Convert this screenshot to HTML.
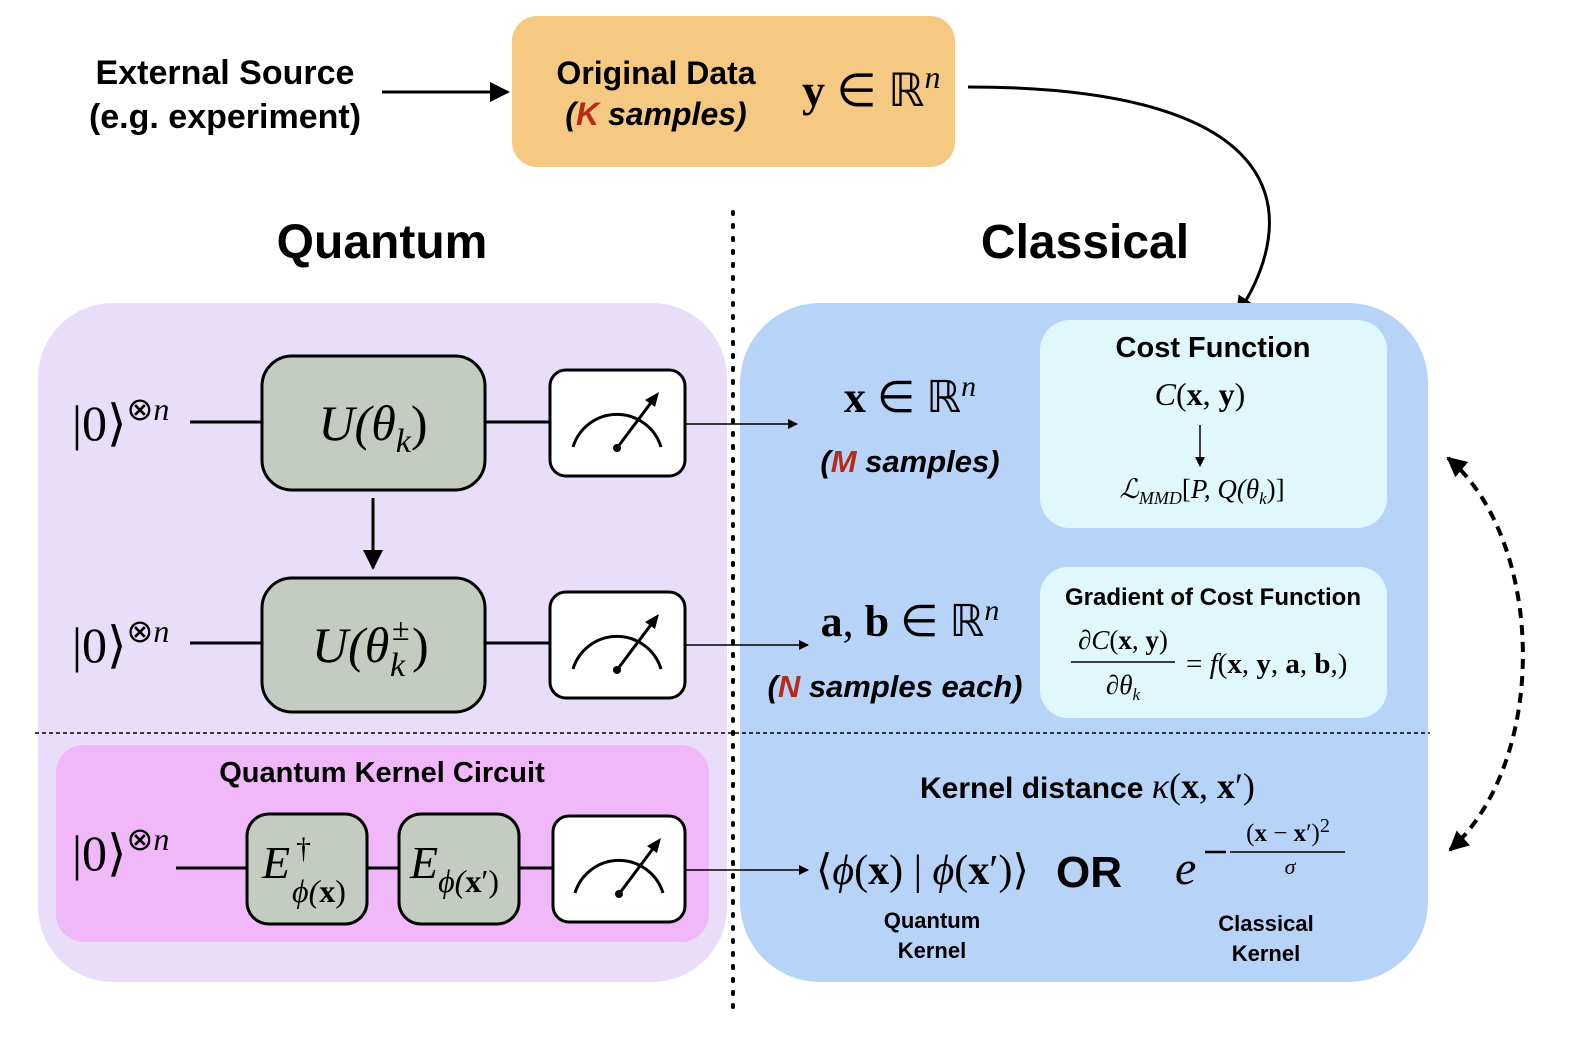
<!DOCTYPE html>
<html><head><meta charset="utf-8"><style>
html,body{margin:0;padding:0;background:#fff;}
svg{display:block}
.s{font-family:"Liberation Sans",sans-serif;font-weight:bold}
.m{font-family:"Liberation Serif",serif}
</style></head><body>
<svg width="1586" height="1056" viewBox="0 0 1586 1056" xmlns="http://www.w3.org/2000/svg">
<defs>
<marker id="ah" markerWidth="10" markerHeight="10" refX="9" refY="5" orient="auto" markerUnits="userSpaceOnUse"><path d="M0,0 L10,5 L0,10 z" fill="#000"/></marker>
<marker id="ahb" markerWidth="20" markerHeight="20" refX="18" refY="10" orient="auto-start-reverse" markerUnits="userSpaceOnUse"><path d="M0,0 L20,10 L0,20 z" fill="#000"/></marker>
<g id="meter"><path d="M-44,25 A46,46 0 0 1 44,25" fill="none" stroke="#000" stroke-width="3"/><circle cx="0" cy="26" r="4" fill="#000"/><line x1="0" y1="26" x2="36" y2="-22" stroke="#000" stroke-width="3"/><path d="M42,-30 L28,-22 L38,-15 z" fill="#000"/></g>
</defs>
<!-- top -->
<text class="s" x="225" y="84" font-size="34" text-anchor="middle">External Source</text>
<text class="s" x="225" y="128" font-size="34" text-anchor="middle">(e.g. experiment)</text>
<line x1="382" y1="92" x2="508" y2="92" stroke="#000" stroke-width="3" marker-end="url(#ahb)"/>
<rect x="512" y="16" width="443" height="151" rx="25" fill="#f6c983"/>
<text class="s" x="656" y="84" font-size="32" text-anchor="middle">Original Data</text>
<text class="s" x="656" y="125" font-size="32" text-anchor="middle" font-style="italic">(<tspan fill="#b52a1a">K</tspan> samples)</text>
<text class="m" x="802" y="106" font-size="46"><tspan font-weight="bold">y</tspan> ∈ ℝ<tspan font-style="italic" font-size="32" dy="-18">n</tspan></text>
<path d="M968,87 C1300,87 1300,220 1237,315" fill="none" stroke="#000" stroke-width="3" marker-end="url(#ahb)"/>
<text class="s" x="382" y="258" font-size="48" text-anchor="middle">Quantum</text>
<text class="s" x="1085" y="258" font-size="48" text-anchor="middle">Classical</text>
<!-- panels -->
<rect x="38" y="303" width="689" height="679" rx="75" fill="#e8defa"/>
<rect x="740" y="303" width="688" height="679" rx="80" fill="#b8d3f8"/>
<line x1="733" y1="212" x2="733" y2="1018" stroke="#000" stroke-width="4" stroke-dasharray="2,11" stroke-linecap="round"/>
<line x1="35" y1="733" x2="1430" y2="733" stroke="#000" stroke-width="1.5" stroke-dasharray="4,3"/>
<rect x="1040" y="320" width="347" height="208" rx="30" fill="#e0f8fd"/>
<rect x="1040" y="567" width="347" height="151" rx="28" fill="#e0f8fd"/>
<rect x="56" y="745" width="653" height="197" rx="28" fill="#f0b8f8"/>
<!-- row 1 -->
<text class="m" x="72" y="440" font-size="50">|0⟩<tspan font-size="32" dy="-20">⊗<tspan font-style="italic">n</tspan></tspan></text>
<line x1="190" y1="422" x2="262" y2="422" stroke="#000" stroke-width="3"/>
<rect x="262" y="356" width="223" height="134" rx="30" fill="#c4cbc0" stroke="#000" stroke-width="3"/>
<text class="m" x="373" y="440" font-size="50" text-anchor="middle" font-style="italic">U(θ<tspan font-size="34" dy="12">k</tspan><tspan dy="-12" font-style="normal">)</tspan></text>
<line x1="485" y1="422" x2="550" y2="422" stroke="#000" stroke-width="3"/>
<rect x="550" y="370" width="135" height="106" rx="16" fill="#fff" stroke="#000" stroke-width="3"/>
<use href="#meter" x="617" y="422"/>
<line x1="685" y1="424" x2="797" y2="424" stroke="#000" stroke-width="1.5" marker-end="url(#ah)"/>
<line x1="373" y1="498" x2="373" y2="568" stroke="#000" stroke-width="3" marker-end="url(#ahb)"/>
<!-- row 2 -->
<text class="m" x="72" y="662" font-size="50">|0⟩<tspan font-size="32" dy="-20">⊗<tspan font-style="italic">n</tspan></tspan></text>
<line x1="190" y1="643" x2="262" y2="643" stroke="#000" stroke-width="3"/>
<rect x="262" y="578" width="223" height="134" rx="30" fill="#c4cbc0" stroke="#000" stroke-width="3"/>
<text class="m" x="312" y="662" font-size="50" font-style="italic">U(θ</text>
<text class="m" x="392" y="640" font-size="32">±</text>
<text class="m" x="390" y="676" font-size="34" font-style="italic">k</text>
<text class="m" x="412" y="662" font-size="50">)</text>
<line x1="485" y1="643" x2="550" y2="643" stroke="#000" stroke-width="3"/>
<rect x="550" y="592" width="135" height="106" rx="16" fill="#fff" stroke="#000" stroke-width="3"/>
<use href="#meter" x="617" y="644"/>
<line x1="685" y1="645" x2="808" y2="645" stroke="#000" stroke-width="1.5" marker-end="url(#ah)"/>
<!-- kernel circuit -->
<text class="s" x="382" y="782" font-size="29" text-anchor="middle">Quantum Kernel Circuit</text>
<text class="m" x="72" y="870" font-size="50">|0⟩<tspan font-size="32" dy="-20">⊗<tspan font-style="italic">n</tspan></tspan></text>
<line x1="176" y1="868" x2="247" y2="868" stroke="#000" stroke-width="3"/>
<rect x="247" y="814" width="120" height="110" rx="22" fill="#c4cbc0" stroke="#000" stroke-width="3"/>
<text class="m" x="262" y="878" font-size="46" font-style="italic">E</text>
<text class="m" x="296" y="858" font-size="30">†</text>
<text class="m" x="292" y="902" font-size="32" font-style="italic">ϕ(<tspan font-weight="bold" font-style="normal">x</tspan><tspan font-style="normal">)</tspan></text>
<line x1="367" y1="868" x2="399" y2="868" stroke="#000" stroke-width="3"/>
<rect x="399" y="814" width="120" height="110" rx="22" fill="#c4cbc0" stroke="#000" stroke-width="3"/>
<text class="m" x="410" y="878" font-size="46" font-style="italic">E<tspan font-size="32" dy="14">ϕ(<tspan font-weight="bold" font-style="normal">x</tspan><tspan font-style="normal">′)</tspan></tspan></text>
<line x1="519" y1="868" x2="553" y2="868" stroke="#000" stroke-width="3"/>
<rect x="553" y="816" width="132" height="106" rx="16" fill="#fff" stroke="#000" stroke-width="3"/>
<use href="#meter" x="619" y="868"/>
<line x1="685" y1="870" x2="808" y2="870" stroke="#000" stroke-width="1.5" marker-end="url(#ah)"/>
<!-- classical side -->
<text class="m" x="910" y="412" font-size="44" text-anchor="middle"><tspan font-weight="bold">x</tspan> ∈ ℝ<tspan font-style="italic" font-size="30" dy="-16">n</tspan></text>
<text class="s" x="910" y="472" font-size="31" text-anchor="middle" font-style="italic">(<tspan fill="#b52a1a">M</tspan> samples)</text>
<text class="m" x="910" y="636" font-size="44" text-anchor="middle"><tspan font-weight="bold">a</tspan>, <tspan font-weight="bold">b</tspan> ∈ ℝ<tspan font-style="italic" font-size="30" dy="-16">n</tspan></text>
<text class="s" x="895" y="697" font-size="31" text-anchor="middle" font-style="italic">(<tspan fill="#b52a1a">N</tspan> samples each)</text>
<text class="s" x="1213" y="357" font-size="29" text-anchor="middle">Cost Function</text>
<text class="m" x="1200" y="405" font-size="32" text-anchor="middle"><tspan font-style="italic">C</tspan>(<tspan font-weight="bold">x</tspan>, <tspan font-weight="bold">y</tspan>)</text>
<line x1="1200" y1="425" x2="1200" y2="466" stroke="#000" stroke-width="1.5" marker-end="url(#ah)"/>
<text class="m" x="1202" y="498" font-size="27" text-anchor="middle" font-style="italic">ℒ<tspan font-size="18" dy="6">MMD</tspan><tspan dy="-6" font-style="normal">[</tspan>P, Q(θ<tspan font-size="17" dy="6">k</tspan><tspan dy="-6" font-style="normal">)]</tspan></text>
<text class="s" x="1213" y="605" font-size="24" text-anchor="middle">Gradient of Cost Function</text>
<text class="m" x="1123" y="649" font-size="27" text-anchor="middle">∂<tspan font-style="italic">C</tspan>(<tspan font-weight="bold">x</tspan>, <tspan font-weight="bold">y</tspan>)</text>
<line x1="1071" y1="662" x2="1175" y2="662" stroke="#000" stroke-width="1.5"/>
<text class="m" x="1123" y="694" font-size="27" text-anchor="middle">∂<tspan font-style="italic">θ</tspan><tspan font-size="17" dy="6" font-style="italic">k</tspan></text>
<text class="m" x="1186" y="673" font-size="29">= <tspan font-style="italic">f</tspan>(<tspan font-weight="bold">x</tspan>, <tspan font-weight="bold">y</tspan>, <tspan font-weight="bold">a</tspan>, <tspan font-weight="bold">b</tspan>,)</text>
<text class="s" x="920" y="798" font-size="30">Kernel distance <tspan class="m" font-weight="normal" font-size="36"><tspan font-style="italic">κ</tspan>(<tspan font-weight="bold">x</tspan>, <tspan font-weight="bold">x</tspan>′)</tspan></text>
<text class="m" x="816" y="884" font-size="42">⟨<tspan font-style="italic">ϕ</tspan>(<tspan font-weight="bold">x</tspan>) | <tspan font-style="italic">ϕ</tspan>(<tspan font-weight="bold">x</tspan>′)⟩</text>
<text class="s" x="1056" y="887" font-size="44">OR</text>
<text class="m" x="1175" y="884" font-size="48" font-style="italic">e</text>
<line x1="1205" y1="852" x2="1226" y2="852" stroke="#000" stroke-width="2.5"/>
<text class="m" x="1288" y="841" font-size="25" text-anchor="middle">(<tspan font-weight="bold">x</tspan> − <tspan font-weight="bold">x</tspan>′)<tspan font-size="20" dy="-9">2</tspan></text>
<line x1="1230" y1="852" x2="1345" y2="852" stroke="#000" stroke-width="1.5"/>
<text class="m" x="1290" y="874" font-size="22" text-anchor="middle" font-style="italic">σ</text>
<text class="s" x="932" y="928" font-size="22" text-anchor="middle">Quantum</text>
<text class="s" x="932" y="958" font-size="22" text-anchor="middle">Kernel</text>
<text class="s" x="1266" y="931" font-size="22" text-anchor="middle">Classical</text>
<text class="s" x="1266" y="961" font-size="22" text-anchor="middle">Kernel</text>
<!-- dashed double arrow -->
<path d="M1448,458 C1545,540 1550,760 1450,850" fill="none" stroke="#000" stroke-width="4" stroke-dasharray="10,7" marker-start="url(#ahb)" marker-end="url(#ahb)"/>
</svg>
</body></html>
